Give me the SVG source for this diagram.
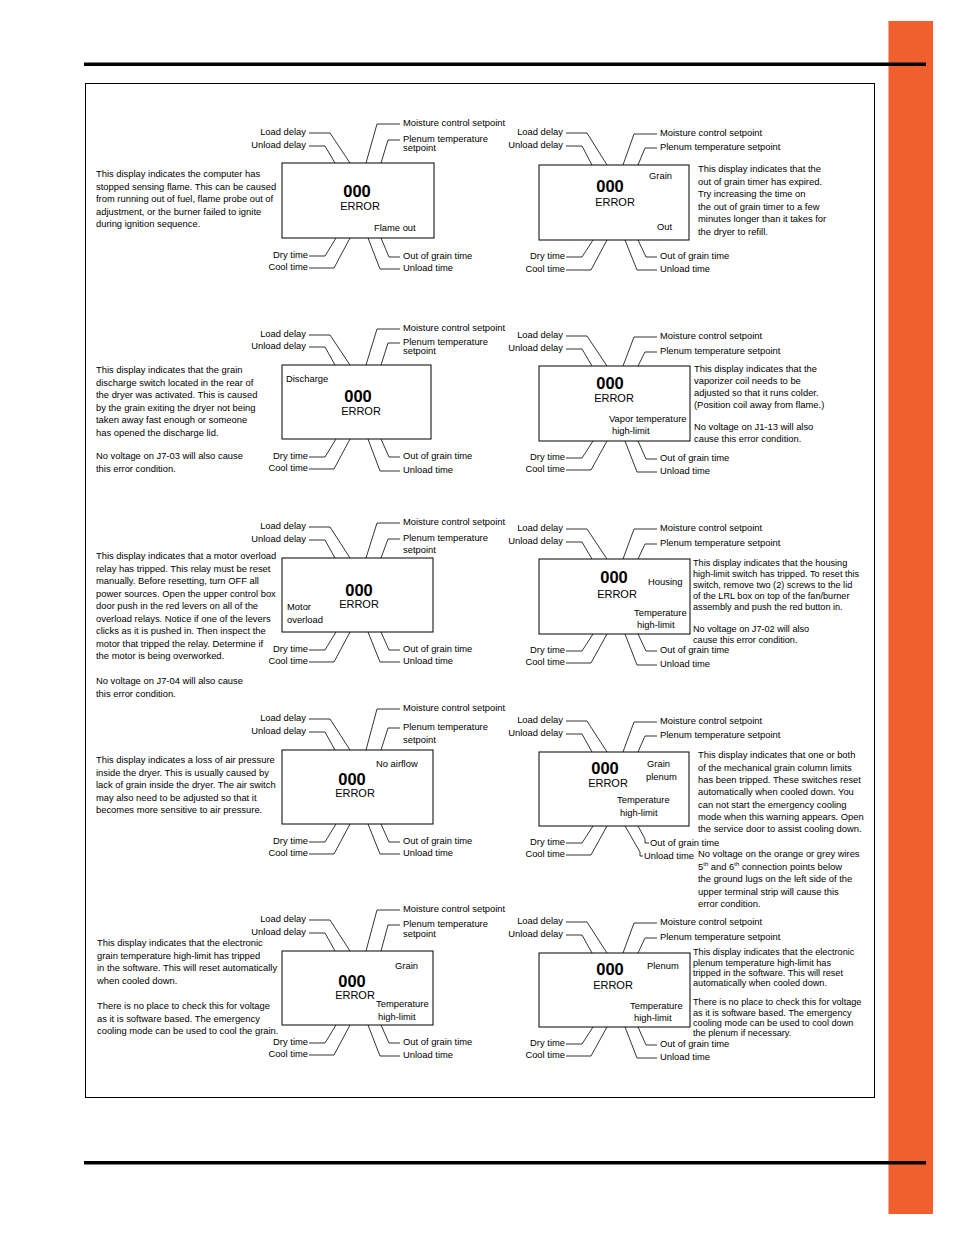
<svg xmlns="http://www.w3.org/2000/svg" width="954" height="1235" viewBox="0 0 954 1235">
<style>
text{font-family:"Liberation Sans",Arial,sans-serif;font-size:9.4px;fill:#000}
.big{font-weight:bold;font-size:16.5px;text-anchor:middle}
.err{font-size:11px;text-anchor:middle}
.r{text-anchor:end}
.sm{font-size:9.15px}
.box{fill:#fff;stroke:#000;stroke-width:1}
#connectors path{fill:none;stroke:#000;stroke-width:0.8}
</style>
<rect x="888.5" y="21" width="44.5" height="1193" fill="#F15F2E"/>
<rect x="84" y="62.5" width="842" height="3.5" fill="#000"/>
<rect x="84" y="1161" width="842" height="3.5" fill="#000"/>
<rect x="85.5" y="83.5" width="789" height="1014" fill="none" stroke="#000" stroke-width="1"/>

<g id="connectors">
<path d="M309,133 H330 L350,163 M309,146 H325 L335,163 M400,124 H377 L366,163 M400,140 H388 L381,163 M309,256 H325 L336,238 M309,268 H334 L350,238 M400,257 H389 L381,238 M400,269 H380 L368,238"/>
<path d="M566,133 H587 L607,165 M566,146 H582 L592,165 M657,134 H634 L623,165 M657,148 H645 L638,165 M566,257 H582 L593,240 M566,270 H591 L607,240 M657,257 H646 L638,240 M657,270 H637 L625,240"/>
<path d="M309,335 H330 L350,365 M309,347 H325 L335,365 M400,329 H377 L366,365 M400,343 H388 L381,365 M309,457 H325 L336,439 M309,469 H334 L350,439 M400,457 H389 L381,439 M400,471 H380 L368,439"/>
<path d="M566,336 H587 L607,366 M566,349 H582 L592,366 M657,337 H634 L623,366 M657,352 H645 L638,366 M566,458 H582 L593,441 M566,470 H591 L607,441 M657,459 H646 L638,441 M657,472 H637 L625,441"/>
<path d="M309,527 H330 L350,558 M309,540 H325 L335,558 M400,523 H377 L366,558 M400,539 H388 L381,558 M309,650 H325 L336,632 M309,662 H334 L350,632 M400,650 H389 L381,632 M400,662 H380 L368,632"/>
<path d="M566,529 H587 L607,559 M566,542 H582 L592,559 M657,529 H634 L623,559 M657,544 H645 L638,559 M566,651 H582 L593,634 M566,663 H591 L607,634 M657,651 H646 L638,634 M657,665 H637 L625,634"/>
<path d="M309,719 H330 L350,750 M309,732 H325 L335,750 M400,709 H377 L366,750 M400,728 H388 L381,750 M309,842 H325 L336,824 M309,854 H334 L350,824 M400,842 H389 L381,824 M400,854 H380 L368,824"/>
<path d="M566,721 H587 L607,752 M566,734 H582 L592,752 M657,722 H634 L623,752 M657,736 H645 L638,752 M566,843 H582 L593,826 M566,855 H591 L607,826 M638,826 L645,839 L645,843 H649 M625,826 L640,852 L640,856 H643"/>
<path d="M309,920 H330 L350,951 M309,933 H325 L335,951 M400,910 H377 L366,951 M400,925 H388 L381,951 M309,1043 H325 L336,1025 M309,1055 H334 L350,1025 M400,1043 H389 L381,1025 M400,1056 H380 L368,1025"/>
<path d="M566,922 H587 L607,953 M566,935 H582 L592,953 M657,923 H634 L623,953 M657,938 H645 L638,953 M566,1044 H582 L593,1027 M566,1056 H591 L607,1027 M657,1045 H646 L638,1027 M657,1058 H637 L625,1027"/>
</g>

<g id="flame-out">
<rect class="box" x="282" y="163" width="152" height="75"/>
<text class="big" x="357" y="197">000</text>
<text class="err" x="360" y="210">ERROR</text>
<text x="374" y="231">Flame out</text>
<text class="r" x="306" y="135.3">Load delay</text>
<text class="r" x="306" y="148.3">Unload delay</text>
<text x="403" y="126.3">Moisture control setpoint</text>
<text x="403" y="142.3">Plenum temperature<tspan x="403" y="151.3">setpoint</tspan></text>
<text class="r" x="308" y="258.3">Dry time</text>
<text class="r" x="308" y="270.3">Cool time</text>
<text x="403" y="259.3">Out of grain time</text>
<text x="403" y="271.3">Unload time</text>
<text x="96" y="177.3">This display indicates the computer has<tspan x="96" dy="12.5">stopped sensing flame. This can be caused</tspan><tspan x="96" dy="12.5">from running out of fuel, flame probe out of</tspan><tspan x="96" dy="12.5">adjustment, or the burner failed to ignite</tspan><tspan x="96" dy="12.5">during ignition sequence.</tspan></text>
</g>

<g id="grain-out">
<rect class="box" x="539" y="165" width="150" height="75"/>
<text class="big" x="610" y="192">000</text>
<text class="err" x="615" y="206">ERROR</text>
<text x="649" y="179">Grain</text>
<text x="657" y="230">Out</text>
<text class="r" x="563" y="135.3">Load delay</text>
<text class="r" x="563" y="148.3">Unload delay</text>
<text x="660" y="136.3">Moisture control setpoint</text>
<text x="660" y="150.3">Plenum temperature setpoint</text>
<text class="r" x="565" y="259.3">Dry time</text>
<text class="r" x="565" y="272.3">Cool time</text>
<text x="660" y="259.3">Out of grain time</text>
<text x="660" y="272.3">Unload time</text>
<text x="698" y="172.3">This display indicates that the<tspan x="698" dy="12.5">out of grain timer has expired.</tspan><tspan x="698" dy="12.5">Try increasing the time on</tspan><tspan x="698" dy="12.5">the out of grain timer to a few</tspan><tspan x="698" dy="12.5">minutes longer than it takes for</tspan><tspan x="698" dy="12.5">the dryer to refill.</tspan></text>
</g>

<g id="discharge">
<rect class="box" x="282" y="365" width="149" height="74"/>
<text class="big" x="358" y="402">000</text>
<text class="err" x="361" y="415">ERROR</text>
<text x="286" y="382.3">Discharge</text>
<text class="r" x="306" y="337.3">Load delay</text>
<text class="r" x="306" y="349.3">Unload delay</text>
<text x="403" y="331.3">Moisture control setpoint</text>
<text x="403" y="345.3">Plenum temperature<tspan x="403" y="354.3">setpoint</tspan></text>
<text class="r" x="308" y="459.3">Dry time</text>
<text class="r" x="308" y="471.3">Cool time</text>
<text x="403" y="459.3">Out of grain time</text>
<text x="403" y="473.3">Unload time</text>
<text x="96" y="373.3">This display indicates that the grain<tspan x="96" dy="12.5">discharge switch located in the rear of</tspan><tspan x="96" dy="12.5">the dryer was activated. This is caused</tspan><tspan x="96" dy="12.5">by the grain exiting the dryer not being</tspan><tspan x="96" dy="12.5">taken away fast enough or someone</tspan><tspan x="96" dy="12.5">has opened the discharge lid.</tspan><tspan x="96" dy="23.5">No voltage on J7-03 will also cause</tspan><tspan x="96" dy="12.5">this error condition.</tspan></text>
</g>

<g id="vapor-temperature">
<rect class="box" x="539" y="366" width="151" height="75"/>
<text class="big" x="610" y="389">000</text>
<text class="err" x="614" y="402">ERROR</text>
<text x="609" y="422.3">Vapor temperature</text>
<text x="612" y="434.3">high-limit</text>
<text class="r" x="563" y="338.3">Load delay</text>
<text class="r" x="563" y="351.3">Unload delay</text>
<text x="660" y="339.3">Moisture control setpoint</text>
<text x="660" y="354.3">Plenum temperature setpoint</text>
<text class="r" x="565" y="460.3">Dry time</text>
<text class="r" x="565" y="472.3">Cool time</text>
<text x="660" y="461.3">Out of grain time</text>
<text x="660" y="474.3">Unload time</text>
<text x="694" y="372.3">This display indicates that the<tspan x="694" dy="12">vaporizer coil needs to be</tspan><tspan x="694" dy="12">adjusted so that it runs colder.</tspan><tspan x="694" dy="12">(Position coil away from flame.)</tspan><tspan x="694" dy="22">No voltage on J1-13 will also</tspan><tspan x="694" dy="12">cause this error condition.</tspan></text>
</g>

<g id="motor-overload">
<rect class="box" x="282" y="558" width="151" height="74"/>
<text class="big" x="359" y="596">000</text>
<text class="err" x="359" y="608">ERROR</text>
<text x="287" y="610.3">Motor<tspan x="287" dy="13">overload</tspan></text>
<text class="r" x="306" y="529.3">Load delay</text>
<text class="r" x="306" y="542.3">Unload delay</text>
<text x="403" y="525.3">Moisture control setpoint</text>
<text x="403" y="541.3">Plenum temperature<tspan x="403" y="553.3">setpoint</tspan></text>
<text class="r" x="308" y="652.3">Dry time</text>
<text class="r" x="308" y="664.3">Cool time</text>
<text x="403" y="652.3">Out of grain time</text>
<text x="403" y="664.3">Unload time</text>
<text x="96" y="559.3">This display indicates that a motor overload<tspan x="96" dy="12.5">relay has tripped. This relay must be reset</tspan><tspan x="96" dy="12.5">manually. Before resetting, turn OFF all</tspan><tspan x="96" dy="12.5">power sources. Open the upper control box</tspan><tspan x="96" dy="12.5">door push in the red levers on all of the</tspan><tspan x="96" dy="12.5">overload relays. Notice if one of the levers</tspan><tspan x="96" dy="12.5">clicks as it is pushed in. Then inspect the</tspan><tspan x="96" dy="12.5">motor that tripped the relay. Determine if</tspan><tspan x="96" dy="12.5">the motor is being overworked.</tspan><tspan x="96" dy="25">No voltage on J7-04 will also cause</tspan><tspan x="96" dy="12.5">this error condition.</tspan></text>
</g>

<g id="housing-temperature">
<rect class="box" x="539" y="559" width="151" height="75"/>
<text class="big" x="614" y="583">000</text>
<text class="err" x="617" y="598">ERROR</text>
<text x="648" y="585.3">Housing</text>
<text x="634" y="616.3">Temperature</text>
<text x="637" y="628.3">high-limit</text>
<text class="r" x="563" y="531.3">Load delay</text>
<text class="r" x="563" y="544.3">Unload delay</text>
<text x="660" y="531.3">Moisture control setpoint</text>
<text x="660" y="546.3">Plenum temperature setpoint</text>
<text class="r" x="565" y="653.3">Dry time</text>
<text class="r" x="565" y="665.3">Cool time</text>
<text x="660" y="653.3">Out of grain time</text>
<text x="660" y="667.3">Unload time</text>
<text class="sm" x="693" y="566.3">This display indicates that the housing<tspan x="693" dy="11">high-limit switch has tripped. To reset this</tspan><tspan x="693" dy="11">switch, remove two (2) screws to the lid</tspan><tspan x="693" dy="11">of the LRL box on top of the fan/burner</tspan><tspan x="693" dy="11">assembly and push the red button in.</tspan><tspan x="693" dy="22">No voltage on J7-02 will also</tspan><tspan x="693" dy="11">cause this error condition.</tspan></text>
</g>

<g id="no-airflow">
<rect class="box" x="282" y="750" width="151" height="74"/>
<text class="big" x="352" y="785">000</text>
<text class="err" x="355" y="797">ERROR</text>
<text x="376" y="767.3">No airflow</text>
<text class="r" x="306" y="721.3">Load delay</text>
<text class="r" x="306" y="734.3">Unload delay</text>
<text x="403" y="711.3">Moisture control setpoint</text>
<text x="403" y="730.3">Plenum temperature<tspan x="403" y="743.3">setpoint</tspan></text>
<text class="r" x="308" y="844.3">Dry time</text>
<text class="r" x="308" y="856.3">Cool time</text>
<text x="403" y="844.3">Out of grain time</text>
<text x="403" y="856.3">Unload time</text>
<text x="96" y="763.3">This display indicates a loss of air pressure<tspan x="96" dy="12.5">inside the dryer. This is usually caused by</tspan><tspan x="96" dy="12.5">lack of grain inside the dryer. The air switch</tspan><tspan x="96" dy="12.5">may also need to be adjusted so that it</tspan><tspan x="96" dy="12.5">becomes more sensitive to air pressure.</tspan></text>
</g>

<g id="grain-plenum-temperature">
<rect class="box" x="539" y="752" width="150" height="74"/>
<text class="big" x="605" y="774">000</text>
<text class="err" x="608" y="787">ERROR</text>
<text x="647" y="767.3">Grain</text>
<text x="646" y="780.3">plenum</text>
<text x="617" y="803.3">Temperature</text>
<text x="620" y="816.3">high-limit</text>
<text class="r" x="563" y="723.3">Load delay</text>
<text class="r" x="563" y="736.3">Unload delay</text>
<text x="660" y="724.3">Moisture control setpoint</text>
<text x="660" y="738.3">Plenum temperature setpoint</text>
<text class="r" x="565" y="845.3">Dry time</text>
<text class="r" x="565" y="857.3">Cool time</text>
<text x="650" y="846.3">Out of grain time</text>
<text x="644" y="859.3">Unload time</text>
<text x="698" y="758.3">This display indicates that one or both<tspan x="698" dy="12.3">of the mechanical grain column limits</tspan><tspan x="698" dy="12.3">has been tripped. These switches reset</tspan><tspan x="698" dy="12.3">automatically when cooled down. You</tspan><tspan x="698" dy="12.3">can not start the emergency cooling</tspan><tspan x="698" dy="12.3">mode when this warning appears. Open</tspan><tspan x="698" dy="12.3">the service door to assist cooling down.</tspan></text>
<text x="698" y="857.3">No voltage on the orange or grey wires<tspan x="698" dy="12.5">5</tspan><tspan font-size="6" dy="-3.5">th</tspan><tspan dy="3.5"> and 6</tspan><tspan font-size="6" dy="-3.5">th</tspan><tspan dy="3.5"> connection points below</tspan><tspan x="698" dy="12.5">the ground lugs on the left side of the</tspan><tspan x="698" dy="12.5">upper terminal strip will cause this</tspan><tspan x="698" dy="12.5">error condition.</tspan></text>
</g>

<g id="grain-temperature">
<rect class="box" x="282" y="951" width="151" height="74"/>
<text class="big" x="352" y="987">000</text>
<text class="err" x="355" y="999">ERROR</text>
<text x="395" y="969.3">Grain</text>
<text x="376" y="1007.3">Temperature</text>
<text x="378" y="1020.3">high-limit</text>
<text class="r" x="306" y="922.3">Load delay</text>
<text class="r" x="306" y="935.3">Unload delay</text>
<text x="403" y="912.3">Moisture control setpoint</text>
<text x="403" y="927.3">Plenum temperature<tspan x="403" y="937.3">setpoint</tspan></text>
<text class="r" x="308" y="1045.3">Dry time</text>
<text class="r" x="308" y="1057.3">Cool time</text>
<text x="403" y="1045.3">Out of grain time</text>
<text x="403" y="1058.3">Unload time</text>
<text x="97" y="946.3">This display indicates that the electronic<tspan x="97" dy="12.5">grain temperature high-limit has tripped</tspan><tspan x="97" dy="12.5">in the software. This will reset automatically</tspan><tspan x="97" dy="12.5">when cooled down.</tspan><tspan x="97" dy="25.5">There is no place to check this for voltage</tspan><tspan x="97" dy="12.5">as it is software based. The emergency</tspan><tspan x="97" dy="12.5">cooling mode can be used to cool the grain.</tspan></text>
</g>

<g id="plenum-temperature">
<rect class="box" x="539" y="953" width="151" height="74"/>
<text class="big" x="610" y="975">000</text>
<text class="err" x="613" y="989">ERROR</text>
<text x="647" y="969.3">Plenum</text>
<text x="630" y="1009.3">Temperature</text>
<text x="634" y="1021.3">high-limit</text>
<text class="r" x="563" y="924.3">Load delay</text>
<text class="r" x="563" y="937.3">Unload delay</text>
<text x="660" y="925.3">Moisture control setpoint</text>
<text x="660" y="940.3">Plenum temperature setpoint</text>
<text class="r" x="565" y="1046.3">Dry time</text>
<text class="r" x="565" y="1058.3">Cool time</text>
<text x="660" y="1047.3">Out of grain time</text>
<text x="660" y="1060.3">Unload time</text>
<text class="sm" x="693" y="955.3">This display indicates that the electronic<tspan x="693" dy="10.3">plenum temperature high-limit has</tspan><tspan x="693" dy="10.3">tripped in the software. This will reset</tspan><tspan x="693" dy="10.3">automatically when cooled down.</tspan><tspan x="693" dy="19.1">There is no place to check this for voltage</tspan><tspan x="693" dy="10.3">as it is software based. The emergency</tspan><tspan x="693" dy="10.3">cooling mode can be used to cool down</tspan><tspan x="693" dy="10.3">the plenum if necessary.</tspan></text>
</g>
</svg>
